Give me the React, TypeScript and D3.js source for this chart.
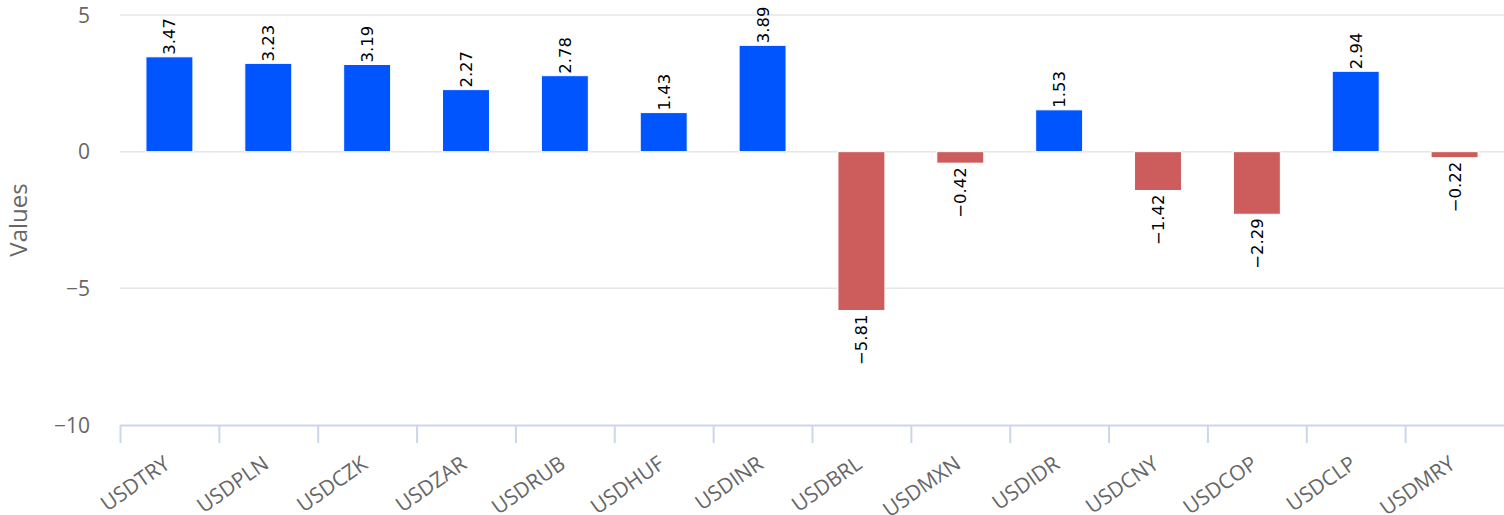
import React from "react";
import * as d3 from "d3";

const categories = ["USDTRY","USDPLN","USDCZK","USDZAR","USDRUB","USDHUF","USDINR","USDBRL","USDMXN","USDIDR","USDCNY","USDCOP","USDCLP","USDMRY"];
const values = [3.47, 3.23, 3.19, 2.27, 2.78, 1.43, 3.89, -5.81, -0.42, 1.53, -1.42, -2.29, 2.94, -0.22];
const yTicks = [-10, -5, 0, 5];

const W = 1504, H = 515;
const left = 120, right = 1504, top = 15, bottom = 425;
const AXIS_FONT = "'Open Sans', 'Lucida Sans Unicode', sans-serif";
const LABEL_FONT = "'DejaVu Sans', Verdana, sans-serif";

export default function App() {
  const x = d3.scaleBand<string>().domain(categories).range([left, right]).padding(0);
  const y = d3.scaleLinear().domain([-10, 5]).range([bottom, top]);
  const bw = x.bandwidth();
  const barW = bw * 0.475;
  const fmt = (v: number) => d3.format(".2f")(v).replace("-", "\u2212");
  return (
    <svg width={W} height={H} style={{ position: "absolute", left: 0, top: 0, display: "block", background: "#fff" }}>
      {yTicks.map((t) => (
        <g key={t}>
          {t !== -10 && <line x1={left} x2={right} y1={y(t)} y2={y(t)} stroke="#e6e6e6" strokeWidth={1.5} />}
          <text x={90} y={y(t)} dy="0.36em" textAnchor="end" fontFamily={AXIS_FONT} fontSize={21} fill="#666666">
            {t < 0 ? "\u2212" + Math.abs(t) : String(t)}
          </text>
        </g>
      ))}
      <text transform={`translate(27,${(top + bottom) / 2}) rotate(-90)`} textAnchor="middle" fontFamily={AXIS_FONT} fontSize={24} fill="#666666">Values</text>
      {categories.map((c, i) => {
        const v = values[i];
        const cx = (x(c) as number) + bw / 2;
        const y0 = y(0), y1 = y(v);
        const pos = v >= 0;
        return (
          <g key={c}>
            <rect x={cx - barW / 2} y={Math.min(y0, y1)} width={barW} height={Math.abs(y1 - y0)} fill={pos ? "#0055ff" : "#cd5c5c"} stroke="#fff" strokeWidth={1} />
            <text transform={`translate(${cx},${pos ? y1 - 2 : y1 + 4}) rotate(-90)`} textAnchor={pos ? "start" : "end"} dy="0.36em" fontFamily={LABEL_FONT} fontSize={16.5} fill="#000">
              {fmt(v)}
            </text>
          </g>
        );
      })}
      <line x1={left} x2={right} y1={bottom + 0.5} y2={bottom + 0.5} stroke="#ccd6eb" strokeWidth={2} />
      {categories.map((c) => (
        <line key={c + "t"} x1={(x(c) as number) + 0.5} x2={(x(c) as number) + 0.5} y1={bottom} y2={bottom + 18} stroke="#ccd6eb" strokeWidth={2} />
      ))}
      {categories.map((c) => {
        const cx = (x(c) as number) + bw / 2;
        return (
          <text key={c + "l"} transform={`translate(${cx + 2},${bottom + 42}) rotate(-35)`} textAnchor="end" fontFamily={AXIS_FONT} fontSize={21} fill="#666666">
            {c}
          </text>
        );
      })}
    </svg>
  );
}
